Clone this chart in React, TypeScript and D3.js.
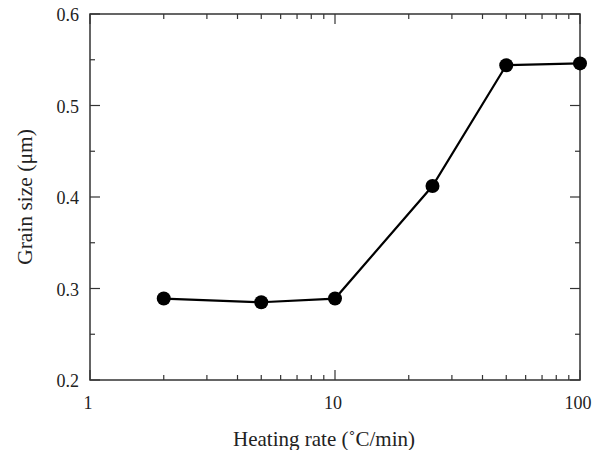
import React from "react";
import * as d3 from "d3";

// heating rate (°C/min) and grain size (µm)
const heatingRates = [2, 5, 10, 25, 50, 100];
const grainSizes = [0.289, 0.285, 0.289, 0.412, 0.544, 0.546];
const xTickLabels = [1, 10, 100];
const yTickLabels = [0.2, 0.3, 0.4, 0.5, 0.6];
const yMinorTicks = [0.25, 0.35, 0.45, 0.55];

const W = 598, H = 450;
const margin = { top: 14, right: 18, bottom: 70, left: 90 };

export default function App() {
  const x = d3.scaleLog().domain([1, 100]).range([margin.left, W - margin.right]);
  const y = d3.scaleLinear().domain([0.2, 0.6]).range([H - margin.bottom, margin.top]);
  const [x0, x1] = x.range();
  const [y0, y1] = y.range();

  // minor log ticks 2..9 in each decade
  const xMinor: number[] = [];
  for (const dec of [1, 10]) for (let k = 2; k <= 9; k++) xMinor.push(dec * k);

  const line = d3.line<number>().x((d, i) => x(heatingRates[i])).y(d => y(d));
  const font = "'Liberation Serif', 'Times New Roman', serif";
  const stroke = "#333";

  return (
    <svg width={W} height={H} style={{ position: "fixed", top: 0, left: 0, background: "#fff" }}>
      <rect x={x0} y={y1} width={x1 - x0} height={y0 - y1} fill="none" stroke={stroke} strokeWidth={1.5} />
      {/* x ticks, bottom and top */}
      {xTickLabels.map(t => (
        <g key={"xt" + t}>
          <line x1={x(t)} x2={x(t)} y1={y0} y2={y0 - 10} stroke={stroke} strokeWidth={1.2} />
          <line x1={x(t)} x2={x(t)} y1={y1} y2={y1 + 10} stroke={stroke} strokeWidth={1.2} />
          <text x={x(t) - 2} y={y0 + 29} textAnchor="middle" fontFamily={font} fontSize={18} fill="#222">{t}</text>
        </g>
      ))}
      {xMinor.map(t => (
        <g key={"xm" + t}>
          <line x1={x(t)} x2={x(t)} y1={y0} y2={y0 - 5} stroke={stroke} strokeWidth={1.2} />
          <line x1={x(t)} x2={x(t)} y1={y1} y2={y1 + 5} stroke={stroke} strokeWidth={1.2} />
        </g>
      ))}
      {/* y ticks, left and right */}
      {yTickLabels.map(t => (
        <g key={"yt" + t}>
          <line x1={x0} x2={x0 + 10} y1={y(t)} y2={y(t)} stroke={stroke} strokeWidth={1.2} />
          <line x1={x1} x2={x1 - 10} y1={y(t)} y2={y(t)} stroke={stroke} strokeWidth={1.2} />
          <text x={x0 - 11} y={y(t) + 7} textAnchor="end" fontFamily={font} fontSize={18} fill="#222">{t.toFixed(1)}</text>
        </g>
      ))}
      {yMinorTicks.map(t => (
        <g key={"ym" + t}>
          <line x1={x0} x2={x0 + 5} y1={y(t)} y2={y(t)} stroke={stroke} strokeWidth={1.2} />
          <line x1={x1} x2={x1 - 5} y1={y(t)} y2={y(t)} stroke={stroke} strokeWidth={1.2} />
        </g>
      ))}
      <path d={line(grainSizes) || ""} fill="none" stroke="#000" strokeWidth={2.2} />
      {grainSizes.map((v, i) => (
        <circle key={i} cx={x(heatingRates[i])} cy={y(v)} r={7} fill="#000" />
      ))}
      <text x={324} y={446} textAnchor="middle" fontFamily={font} fontSize={21} fill="#222">
        Heating rate (˚C/min)
      </text>
      <text transform={`translate(32, ${(y0 + y1) / 2}) rotate(-90)`} textAnchor="middle" fontFamily={font} fontSize={21.5} fill="#222">
        Grain size (μm)
      </text>
    </svg>
  );
}
